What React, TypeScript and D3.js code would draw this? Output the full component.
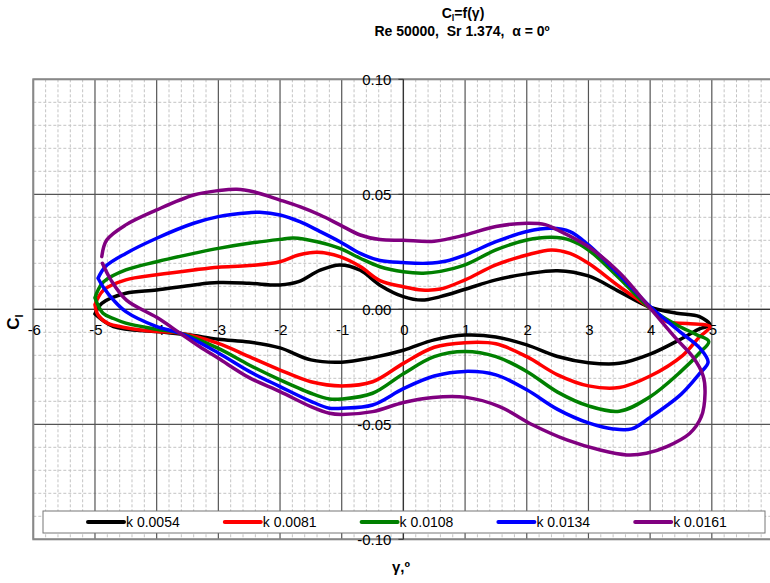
import React, { useEffect, useRef } from 'react';
import * as d3 from 'd3';

// each series is one loop of [gamma, Cl] points: upper branch left->right, then lower branch back
const k0054: [number, number][] = [
  [-5.0, -0.002], [-4.89, 0.0026], [-4.5, 0.007], [-4, 0.0084], [-3.4, 0.0106], [-3, 0.0116],
  [-2.5, 0.0113], [-2, 0.0106], [-1.7, 0.012], [-1.35, 0.017], [-1.03, 0.0193], [-0.7, 0.017],
  [-0.38, 0.0105], [0, 0.0055], [0.3, 0.004], [0.6, 0.0055], [1, 0.0087], [1.5, 0.0128],
  [2, 0.0154], [2.5, 0.0168], [3, 0.0145], [3.5, 0.0077], [4, 0.0009], [4.43, -0.0017],
  [4.8, -0.0032], [4.97, -0.0068],
  [4.8, -0.0085], [4.53, -0.0125], [4, -0.0195], [3.5, -0.0235], [3, -0.0232], [2.5, -0.0205],
  [2, -0.0155], [1.5, -0.012], [1, -0.0112], [0.5, -0.0133], [0, -0.0178], [-0.5, -0.021],
  [-1, -0.023], [-1.5, -0.022], [-2, -0.0168], [-2.5, -0.0142], [-3, -0.013], [-3.5, -0.011],
  [-4, -0.0097], [-4.7, -0.0075], [-5.0, -0.002],
];

const k0081: [number, number][] = [
  [-5.0, 0.002], [-4.86, 0.0084], [-4.5, 0.0128], [-4, 0.015], [-3.4, 0.0171], [-3, 0.0183],
  [-2.5, 0.019], [-2, 0.0207], [-1.7, 0.0236], [-1.4, 0.0248], [-1.03, 0.0229], [-0.7, 0.0186],
  [-0.38, 0.0125], [0, 0.0098], [0.3, 0.0084], [0.6, 0.0088], [1, 0.0128], [1.5, 0.0193],
  [2, 0.0236], [2.4, 0.0258], [2.7, 0.0243], [3, 0.02], [3.5, 0.0099], [4, 0.0004],
  [4.27, -0.0054], [4.6, -0.0062], [4.97, -0.0076],
  [4.8, -0.012], [4.53, -0.02], [4, -0.029], [3.5, -0.034], [3, -0.0333], [2.5, -0.0285],
  [2, -0.0206], [1.5, -0.015], [1, -0.0145], [0.5, -0.0165], [0, -0.0235], [-0.5, -0.0315],
  [-1, -0.0333], [-1.5, -0.0315], [-2, -0.0264], [-2.5, -0.0206], [-3, -0.0148], [-3.62, -0.0104],
  [-4, -0.0097], [-4.5, -0.008], [-4.8, -0.006], [-4.95, -0.0025], [-5.0, 0.002],
];

const k0108: [number, number][] = [
  [-5.0, 0.005], [-4.95, 0.0084], [-4.86, 0.012], [-4.5, 0.0171], [-4, 0.0207], [-3.4, 0.0243],
  [-3, 0.0265], [-2.5, 0.0287], [-2, 0.0304], [-1.78, 0.031], [-1.4, 0.0294], [-1.03, 0.0265],
  [-0.7, 0.0222], [-0.38, 0.0185], [0, 0.0163], [0.32, 0.0157], [0.6, 0.0165], [1, 0.0193],
  [1.5, 0.0258], [2, 0.0301], [2.4, 0.0313], [2.7, 0.0301], [3, 0.0258], [3.5, 0.0135],
  [4, 0.0004], [4.43, -0.0068], [4.75, -0.011], [4.95, -0.014],
  [4.8, -0.019], [4.5, -0.027], [4, -0.038], [3.5, -0.0443], [3, -0.042], [2.5, -0.036],
  [2, -0.027], [1.5, -0.0206], [1, -0.0184], [0.5, -0.0206], [0, -0.028], [-0.5, -0.0365],
  [-1, -0.039], [-1.2, -0.039], [-1.5, -0.0365], [-2, -0.0307], [-2.5, -0.0242], [-3, -0.017],
  [-3.62, -0.0104], [-4, -0.0087], [-4.5, -0.006], [-4.7, -0.004], [-4.87, -0.0017], [-5.0, 0.005],
];

const k0134: [number, number][] = [
  [-4.95, 0.0135], [-4.83, 0.0186], [-4.5, 0.0243], [-4, 0.0309], [-3.4, 0.0374], [-3, 0.0403],
  [-2.5, 0.042], [-2.33, 0.0422], [-2, 0.041], [-1.68, 0.0381], [-1.35, 0.0338], [-1.03, 0.0294],
  [-0.7, 0.0243], [-0.38, 0.0212], [0, 0.0203], [0.38, 0.02], [0.7, 0.021], [1, 0.0236],
  [1.5, 0.0294], [2, 0.0338], [2.4, 0.0352], [2.7, 0.0338], [3, 0.028], [3.5, 0.015],
  [4, 0.0012], [4.48, -0.0097], [4.81, -0.017], [4.94, -0.023],
  [4.8, -0.028], [4.5, -0.037], [4, -0.047], [3.7, -0.052], [3.4, -0.052], [3, -0.0494],
  [2.5, -0.0435], [2, -0.035], [1.5, -0.0285], [1, -0.027], [0.5, -0.029], [0, -0.0345],
  [-0.5, -0.0416], [-1, -0.043], [-1.2, -0.043], [-1.5, -0.04], [-2, -0.0336], [-2.5, -0.027],
  [-3, -0.019], [-3.62, -0.0104], [-4, -0.0075], [-4.5, -0.001], [-4.7, 0.004], [-4.85, 0.009],
  [-4.95, 0.0135],
];

const k0161: [number, number][] = [
  [-4.89, 0.0229], [-4.81, 0.0301], [-4.5, 0.0367], [-4, 0.0432], [-3.4, 0.0497], [-3, 0.0516],
  [-2.7, 0.0522], [-2.43, 0.0511], [-2, 0.0475], [-1.68, 0.0446], [-1.35, 0.041], [-1.03, 0.0367],
  [-0.7, 0.0323], [-0.38, 0.0303], [0, 0.03], [0.5, 0.0296], [1, 0.0323], [1.5, 0.036],
  [2, 0.0374], [2.3, 0.0368], [2.5, 0.0345], [3, 0.0272], [3.5, 0.016], [4, 0.0005],
  [4.43, -0.013], [4.7, -0.021], [4.86, -0.029], [4.89, -0.0365], [4.83, -0.0467], [4.64, -0.054],
  [4.27, -0.0597], [3.94, -0.0626], [3.62, -0.0633], [3.19, -0.0612], [2.65, -0.0568], [2.1, -0.0503],
  [1.56, -0.0423], [1.02, -0.0383], [0.48, -0.0383], [0, -0.0405], [-0.5, -0.0445], [-1, -0.0457],
  [-1.2, -0.0452], [-1.5, -0.0423], [-2, -0.0358], [-2.5, -0.0297], [-3, -0.0213], [-3.3, -0.0163],
  [-3.62, -0.0104], [-4, -0.0035], [-4.49, 0.004], [-4.74, 0.0127], [-4.88, 0.02],
];

const seriesNames = ['k 0.0054', 'k 0.0081', 'k 0.0108', 'k 0.0134', 'k 0.0161'];
const seriesColors = ['#000000', '#ff0000', '#008000', '#0000ff', '#800080'];
const seriesData = [k0054, k0081, k0108, k0134, k0161];

const xTicks = [-6, -5, -4, -3, -2, -1, 0, 1, 2, 3, 4, 5, 6];
const yTicks = [-0.1, -0.05, 0, 0.05, 0.1];

const W = 770;
const H = 583;
const FONT = 'Liberation Sans, Arial, sans-serif';

export default function App() {
  const ref = useRef<SVGSVGElement>(null);

  useEffect(() => {
    const svg = d3.select(ref.current);
    svg.selectAll('*').remove();

    const x = d3.scaleLinear().domain([-6, 6]).range([33.3, 773.5]);
    const y = d3.scaleLinear().domain([-0.1, 0.1]).range([539.3, 79.3]);

    const grid = svg.append('g');

    // minor grid
    const minorX = d3.range(-6, 6.001, 0.2).filter(v => Math.abs(v - Math.round(v)) > 0.01);
    const minorY = d3.range(-0.1, 0.1001, 0.01).filter(v => Math.abs(v / 0.05 - Math.round(v / 0.05)) > 0.01);
    grid.selectAll('.mx').data(minorX).enter().append('line')
      .attr('x1', d => x(d)).attr('x2', d => x(d))
      .attr('y1', y(0.1)).attr('y2', y(-0.1))
      .attr('stroke', '#c4c4c4').attr('stroke-dasharray', '3,2');
    grid.selectAll('.my').data(minorY).enter().append('line')
      .attr('x1', x(-6)).attr('x2', x(6))
      .attr('y1', d => y(d)).attr('y2', d => y(d))
      .attr('stroke', '#c4c4c4').attr('stroke-dasharray', '3,2');

    // major grid
    grid.selectAll('.Mx').data(xTicks).enter().append('line')
      .attr('x1', d => x(d)).attr('x2', d => x(d))
      .attr('y1', y(0.1)).attr('y2', y(-0.1))
      .attr('stroke', '#555').attr('stroke-width', 1.2);
    grid.selectAll('.My').data(yTicks).enter().append('line')
      .attr('x1', x(-6)).attr('x2', x(6))
      .attr('y1', d => y(d)).attr('y2', d => y(d))
      .attr('stroke', '#555').attr('stroke-width', 1.2);

    // plot border
    grid.append('rect')
      .attr('x', x(-6)).attr('y', y(0.1))
      .attr('width', x(6) - x(-6)).attr('height', y(-0.1) - y(0.1))
      .attr('fill', 'none').attr('stroke', '#888').attr('stroke-width', 2);

    // axes through origin
    svg.append('line')
      .attr('x1', x(0)).attr('x2', x(0)).attr('y1', y(0.1)).attr('y2', y(-0.1))
      .attr('stroke', '#333').attr('stroke-width', 1.3);
    svg.append('line')
      .attr('x1', x(-6)).attr('x2', x(6)).attr('y1', y(0)).attr('y2', y(0))
      .attr('stroke', '#333').attr('stroke-width', 1.3);
    svg.selectAll('.ytk').data(yTicks).enter().append('line')
      .attr('x1', x(0) - 5).attr('x2', x(0)).attr('y1', d => y(d)).attr('y2', d => y(d))
      .attr('stroke', '#333');

    // tick labels
    svg.selectAll('.xl').data(xTicks).enter().append('text')
      .attr('x', d => x(d) + 1).attr('y', y(0) + 26)
      .attr('text-anchor', 'middle')
      .attr('font-family', FONT).attr('font-size', 15)
      .text(d => d3.format('d')(d).replace('−', '-'));
    svg.selectAll('.yl').data(yTicks).enter().append('text')
      .attr('x', x(0) - 12).attr('y', d => y(d) + 6)
      .attr('text-anchor', 'end')
      .attr('font-family', FONT).attr('font-size', 15)
      .text(d => d3.format('.2f')(d).replace('−', '-'));

    // curves
    const line = d3.line<[number, number]>()
      .x(d => x(d[0])).y(d => y(d[1]))
      .curve(d3.curveCatmullRom.alpha(0.5));
    svg.selectAll('.series').data(seriesData).enter().append('path')
      .attr('d', d => line(d))
      .attr('fill', 'none')
      .attr('stroke', (d, i) => seriesColors[i])
      .attr('stroke-width', 3.5)
      .attr('stroke-linejoin', 'round').attr('stroke-linecap', 'round');

    // legend
    const lg = svg.append('g');
    lg.append('rect')
      .attr('x', 43).attr('y', 511).attr('width', 722).attr('height', 22)
      .attr('fill', '#fff').attr('stroke', '#777').attr('stroke-width', 1);
    seriesNames.forEach((name, i) => {
      const lx = 88 + i * 136.8;
      lg.append('line')
        .attr('x1', lx).attr('x2', lx + 36).attr('y1', 522).attr('y2', 522)
        .attr('stroke', seriesColors[i]).attr('stroke-width', 4).attr('stroke-linecap', 'round');
      lg.append('text')
        .attr('x', lx + 38).attr('y', 527)
        .attr('font-family', FONT).attr('font-size', 14)
        .text(name);
    });

    // titles
    const t1 = svg.append('text')
      .attr('x', 463).attr('y', 18).attr('text-anchor', 'middle')
      .attr('font-family', FONT).attr('font-size', 14).attr('font-weight', 'bold');
    t1.append('tspan').text('C');
    t1.append('tspan').attr('font-size', 9).attr('dy', 3).text('l');
    t1.append('tspan').attr('dy', -3).text('=f(γ)');
    svg.append('text')
      .attr('x', 462).attr('y', 36).attr('text-anchor', 'middle')
      .attr('font-family', FONT).attr('font-size', 14).attr('font-weight', 'bold')
      .attr('xml:space', 'preserve')
      .text('Re 50000,  Sr 1.374,  α = 0º');

    const yl = svg.append('text')
      .attr('transform', 'translate(19,322) rotate(-90)')
      .attr('text-anchor', 'middle')
      .attr('font-family', FONT).attr('font-size', 17).attr('font-weight', 'bold');
    yl.append('tspan').text('C');
    yl.append('tspan').attr('font-size', 11).attr('dy', 4).text('l');

    svg.append('text')
      .attr('x', 401).attr('y', 572).attr('text-anchor', 'middle')
      .attr('font-family', FONT).attr('font-size', 15).attr('font-weight', 'bold')
      .text('γ,º');
  }, []);

  return (
    <svg
      ref={ref}
      width={W}
      height={H}
      style={{ position: 'absolute', left: 0, top: 0, background: '#fff' }}
    />
  );
}
